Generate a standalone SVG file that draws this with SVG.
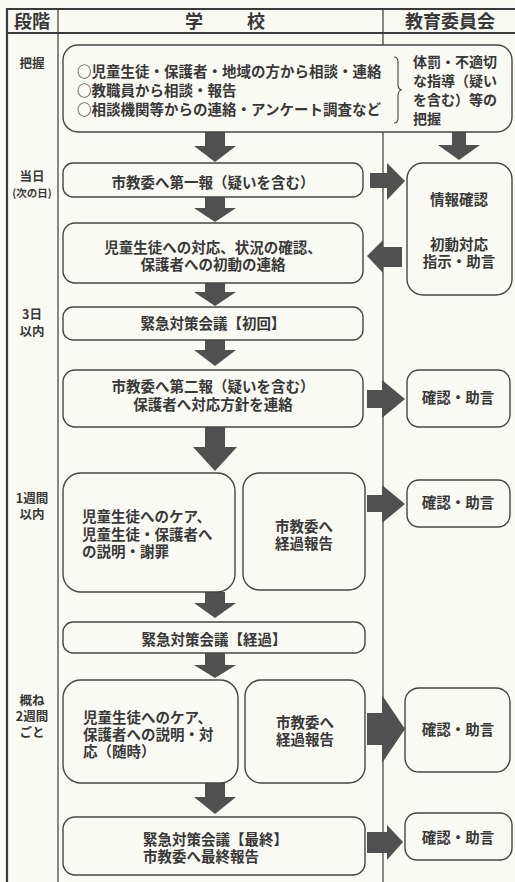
<svg xmlns="http://www.w3.org/2000/svg" width="515" height="882" viewBox="0 0 515 882">
<style>
.bg{fill:#fafaf4}
.grid{stroke:#3a3a3a;stroke-width:1.2;fill:none}
.gridb{stroke:#3a3a3a;stroke-width:2.2;fill:none}
.box{fill:#fafaf4;stroke:#454545;stroke-width:1.4}
.arr{fill:#505050}
text{font-family:"Noto Sans CJK JP","Noto Sans CJK SC",sans-serif;fill:#383838;font-weight:bold}
.h{font-size:18px}
.t{font-size:14.5px}
.tc{font-size:14.5px;text-anchor:middle}
.r{font-size:14px}
.lab{font-size:12.5px;text-anchor:middle}
.sm{font-size:10.5px;text-anchor:middle}
</style>
<rect class="bg" x="0" y="0" width="515" height="882"/>
<g id="table">
<line class="gridb" x1="7" y1="9" x2="515" y2="9"/>
<line class="gridb" x1="7" y1="33" x2="515" y2="33"/>
<line class="gridb" x1="7" y1="8" x2="7" y2="882"/>
<line class="grid" x1="58" y1="9" x2="58" y2="882"/>
<line class="grid" x1="383" y1="9" x2="383" y2="882"/>
<text class="h" x="32" y="28" text-anchor="middle">段階</text>
<text class="h" y="28" text-anchor="middle"><tspan x="194">学</tspan><tspan x="256">校</tspan></text>
<text class="h" x="450" y="28" text-anchor="middle">教育委員会</text>
</g>
<g id="labels">
<text class="lab" x="32" y="68">把握</text>
<text class="lab" x="32" y="181">当日</text>
<text class="sm" x="32" y="197">(次の日)</text>
<text class="lab" x="32" y="319">3日</text>
<text class="lab" x="32" y="336">以内</text>
<text class="lab" x="32" y="503">1週間</text>
<text class="lab" x="32" y="519">以内</text>
<text class="lab" x="32" y="705">概ね</text>
<text class="lab" x="32" y="721">2週間</text>
<text class="lab" x="32" y="737">ごと</text>
</g>
<g id="connectors">
<polygon class="arr" points="205,132 225,132 225,146 236,146 215,162 194,146 205,146"/>
<polygon class="arr" points="452,132 466,132 466,145 480,145 459,160 438,145 452,145"/>
<polygon class="arr" points="205,197 225,197 225,208 236,208 215,222 194,208 205,208"/>
<polygon class="arr" points="205,283 225,283 225,292 236,292 215,306 194,292 205,292"/>
<polygon class="arr" points="205,340 225,340 225,350 236,350 215,366 194,350 205,350"/>
<polygon class="arr" points="205,427 225,427 225,447 237,447 215,471 193,447 205,447"/>
<polygon class="arr" points="205,592 225,592 225,603 236,603 215,618 194,603 205,603"/>
<polygon class="arr" points="205,653 225,653 225,665 236,665 215,678 194,665 205,665"/>
<polygon class="arr" points="205,783 225,783 225,797 236,797 215,814 194,797 205,797"/>
<polygon class="arr" points="370,173 387,173 387,163 405,181 387,200 387,188 370,188"/>
<polygon class="arr" points="402,247 383,247 383,240 367,256 383,273 383,267 402,267"/>
<polygon class="arr" points="367,390 382,390 382,380 405,399 382,418 382,408 367,408"/>
<polygon class="arr" points="367,495 382,495 382,485 405,504 382,523 382,512 367,512"/>
<polygon class="arr" points="367,713 382,713 382,695 405,729 382,763 382,745 367,745"/>
<polygon class="arr" points="367,832 387,832 387,825 403,842 387,860 387,853 367,853"/>
</g>
<g id="n-haaku">
<rect class="box" x="63" y="45" width="449" height="87" rx="15"/>
<text class="t" x="77" y="77">○児童生徒・保護者・地域の方から相談・連絡</text>
<text class="t" x="77" y="96">○教職員から相談・報告</text>
<text class="t" x="77" y="115">○相談機関等からの連絡・アンケート調査など</text>
<path d="M394,57 q4,0 4,5 v22 q0,6 4,6 q-4,0 -4,6 v22 q0,5 -4,5" fill="none" stroke="#444" stroke-width="1.1"/>
<text class="r" x="413" y="67">体罰・不適切</text>
<text class="r" x="413" y="86">な指導（疑い</text>
<text class="r" x="413" y="105">を含む）等の</text>
<text class="r" x="413" y="124">把握</text>
</g>
<g id="n-daiippo">
<rect class="box" x="63" y="163" width="300" height="34" rx="10"/>
<text class="tc" x="213" y="188">市教委へ第一報（疑いを含む）</text>
</g>
<g id="n-jouhou">
<rect class="box" x="407" y="163" width="105" height="132" rx="16"/>
<text class="tc" x="459" y="205">情報確認</text>
<text class="tc" x="459" y="250">初動対応</text>
<text class="tc" x="459" y="267">指示・助言</text>
</g>
<g id="n-shodou">
<rect class="box" x="63" y="223" width="300" height="60" rx="12"/>
<text class="tc" x="213" y="253">児童生徒への対応、状況の確認、</text>
<text class="tc" x="213" y="270">保護者への初動の連絡</text>
</g>
<g id="n-kaigi1">
<rect class="box" x="63" y="307" width="300" height="33" rx="10"/>
<text class="tc" x="213" y="329">緊急対策会議【初回】</text>
</g>
<g id="n-dainiho">
<rect class="box" x="63" y="370" width="300" height="57" rx="12"/>
<text class="tc" x="213" y="392">市教委へ第二報（疑いを含む）</text>
<text class="tc" x="213" y="410">保護者へ対応方針を連絡</text>
</g>
<g id="n-kakunin1">
<rect class="box" x="407" y="370" width="103" height="57" rx="12"/>
<text class="tc" x="458" y="403">確認・助言</text>
</g>
<g id="n-care1">
<rect class="box" x="63" y="473" width="172" height="119" rx="18"/>
<text class="t" x="82" y="522">児童生徒へのケア、</text>
<text class="t" x="82" y="540">児童生徒・保護者へ</text>
<text class="t" x="82" y="557">の説明・謝罪</text>
</g>
<g id="n-keika1">
<rect class="box" x="243" y="473" width="122" height="117" rx="16"/>
<text class="tc" x="304" y="532">市教委へ</text>
<text class="tc" x="304" y="549">経過報告</text>
</g>
<g id="n-kakunin2">
<rect class="box" x="407" y="480" width="103" height="47" rx="12"/>
<text class="tc" x="458" y="508">確認・助言</text>
</g>
<g id="n-kaigi2">
<rect class="box" x="63" y="622" width="302" height="31" rx="10"/>
<text class="tc" x="214" y="645">緊急対策会議【経過】</text>
</g>
<g id="n-care2">
<rect class="box" x="63" y="680" width="175" height="103" rx="18"/>
<text class="t" x="83" y="723">児童生徒へのケア、</text>
<text class="t" x="83" y="740">保護者への説明・対</text>
<text class="t" x="83" y="757">応（随時）</text>
</g>
<g id="n-keika2">
<rect class="box" x="245" y="680" width="120" height="103" rx="16"/>
<text class="tc" x="305" y="728">市教委へ</text>
<text class="tc" x="305" y="745">経過報告</text>
</g>
<g id="n-kakunin3">
<rect class="box" x="405" y="688" width="105" height="84" rx="14"/>
<text class="tc" x="458" y="735">確認・助言</text>
</g>
<g id="n-kaigi3">
<rect class="box" x="63" y="817" width="302" height="58" rx="12"/>
<text class="t" x="143" y="845">緊急対策会議【最終】</text>
<text class="t" x="143" y="862">市教委へ最終報告</text>
</g>
<g id="n-kakunin4">
<rect class="box" x="405" y="813" width="107" height="47" rx="12"/>
<text class="tc" x="458" y="843">確認・助言</text>
</g>
</svg>
